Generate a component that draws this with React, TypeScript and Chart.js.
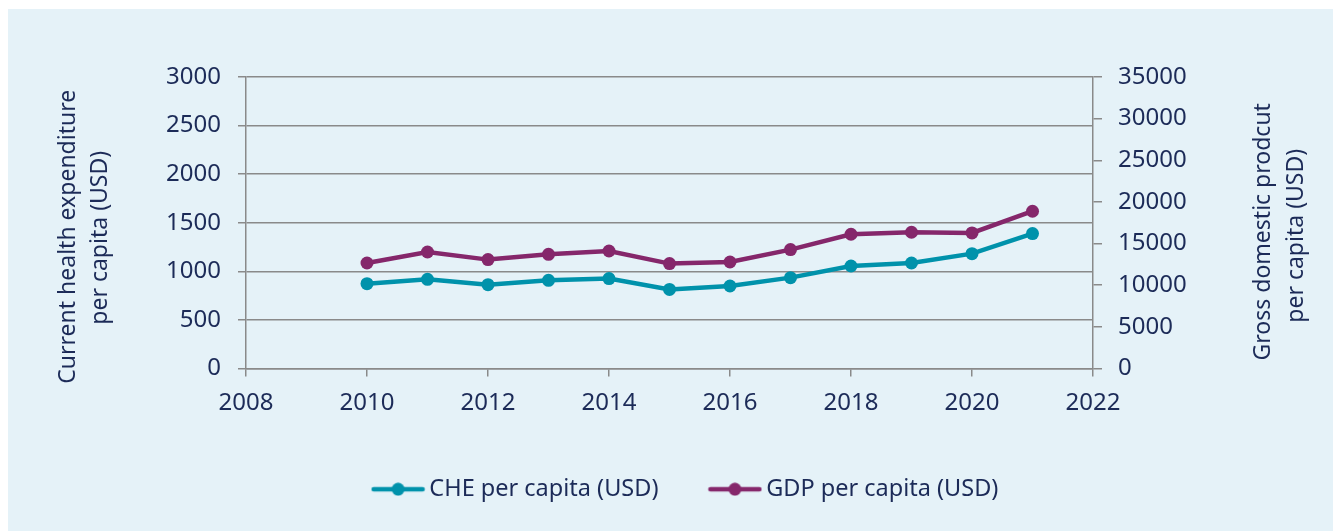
import React, { useEffect, useRef } from "react";
import { Chart, registerables } from "chart.js";

Chart.register(...registerables);

const years = [2010, 2011, 2012, 2013, 2014, 2015, 2016, 2017, 2018, 2019, 2020, 2021];
const cheValues = [873, 918, 863, 907, 925, 814, 849, 935, 1055, 1086, 1182, 1389];
const gdpValues = [12665, 13988, 13074, 13711, 14108, 12593, 12785, 14277, 16117, 16357, 16273, 18883];
const seriesLabels = ["CHE per capita (USD)", "GDP per capita (USD)"];
const leftTitle = ["Current health expenditure", "per capita (USD)"];
const rightTitle = ["Gross domestic prodcut", "per capita (USD)"];

const xMin = 2008;
const xMax = 2022;
const xStep = 2;
const leftMax = 3000;
const leftStep = 500;
const rightMax = 35000;
const rightStep = 5000;

const TEAL = "#0092ab";
const PURPLE = "#85276b";
const TEXT = "#1c2b58";
const GRID = "#8a8a8a";
const BG = "#e5f2f8";
const FONT = "'Noto Sans', sans-serif";

function makeMarker(color: string): HTMLCanvasElement {
  const c = document.createElement("canvas");
  c.width = 55;
  c.height = 14;
  const g = c.getContext("2d")!;
  g.strokeStyle = color;
  g.lineWidth = 4.5;
  g.lineCap = "round";
  g.beginPath();
  g.moveTo(3, 7);
  g.lineTo(52, 7);
  g.stroke();
  g.fillStyle = color;
  g.beginPath();
  g.arc(27.5, 7, 6.5, 0, Math.PI * 2);
  g.fill();
  return c;
}

const sideTitles = {
  id: "sideTitles",
  afterDraw(chart: any) {
    const { ctx, chartArea } = chart;
    const mid = (chartArea.top + chartArea.bottom) / 2;
    ctx.save();
    ctx.font = `23px ${FONT}`;
    ctx.fillStyle = TEXT;
    ctx.textAlign = "center";
    ctx.textBaseline = "middle";
    const draw = (lines: string[], xs: number[], cys: number[]) => {
      lines.forEach((t, i) => {
        ctx.save();
        ctx.translate(xs[i], cys[i]);
        ctx.rotate(-Math.PI / 2);
        ctx.fillText(t, 0, 0);
        ctx.restore();
      });
    };
    draw(leftTitle, [chartArea.left - 178, chartArea.left - 146], [mid + 14, mid + 15]);
    draw(rightTitle, [chartArea.right + 170, chartArea.right + 203], [mid + 9, mid + 13]);
    ctx.restore();
  },
};

export default function App() {
  const ref = useRef<HTMLCanvasElement | null>(null);

  useEffect(() => {
    if (!ref.current) return;
    const markers = [makeMarker(TEAL), makeMarker(PURPLE)];
    const chart = new Chart(ref.current, {
      type: "line",
      data: {
        datasets: [
          {
            label: seriesLabels[0],
            data: years.map((y, i) => ({ x: y, y: cheValues[i] })),
            borderColor: TEAL,
            backgroundColor: TEAL,
            pointBackgroundColor: TEAL,
            borderWidth: 4.5,
            pointRadius: 6.5,
            pointBorderWidth: 0,
            tension: 0,
            yAxisID: "y",
          },
          {
            label: seriesLabels[1],
            data: years.map((y, i) => ({ x: y, y: gdpValues[i] })),
            borderColor: PURPLE,
            backgroundColor: PURPLE,
            pointBackgroundColor: PURPLE,
            borderWidth: 4.5,
            pointRadius: 6.5,
            pointBorderWidth: 0,
            tension: 0,
            yAxisID: "y2",
          },
        ],
      },
      options: {
        responsive: false,
        animation: false,
        devicePixelRatio: 1,
        layout: { padding: { top: 68, left: 28, right: 0, bottom: 21 } },
        plugins: {
          tooltip: { enabled: false },
          legend: {
            position: "bottom",
            labels: {
              usePointStyle: true,
              pointStyleWidth: 39,
              padding: 57,
              color: TEXT,
              font: { family: FONT, size: 23.5 },
              generateLabels: (ch: any) =>
                ch.data.datasets.map((ds: any, i: number) => ({
                  text: ds.label,
                  fillStyle: ds.borderColor,
                  strokeStyle: ds.borderColor,
                  lineWidth: 0,
                  pointStyle: markers[i],
                  hidden: false,
                  datasetIndex: i,
                  fontColor: TEXT,
                })),
            },
          },
        },
        scales: {
          x: {
            type: "linear",
            min: xMin,
            max: xMax,
            afterBuildTicks: (s: any) => {
              const t = [];
              for (let v = xMin; v <= xMax; v += xStep) t.push({ value: v });
              s.ticks = t;
            },
            afterFit: (s: any) => {
              s.height = 52;
            },
            grid: { drawOnChartArea: false, drawTicks: true, tickLength: 8, color: GRID, lineWidth: 1.5 },
            border: { display: true, color: GRID, width: 1.5 },
            ticks: {
              padding: 12,
              color: TEXT,
              font: { family: FONT, size: 24 },
              maxRotation: 0,
              callback: (v: any) => String(v),
            },
          },
          y: {
            type: "linear",
            position: "left",
            min: 0,
            max: leftMax,
            afterFit: (s: any) => {
              s.width = 210;
            },
            grid: { drawTicks: true, tickLength: 8, color: GRID, lineWidth: 1.5 },
            border: { display: true, color: GRID, width: 1.5 },
            ticks: {
              stepSize: leftStep,
              padding: 17,
              color: TEXT,
              font: { family: FONT, size: 24 },
              callback: (v: any) => String(v),
            },
          },
          y2: {
            type: "linear",
            position: "right",
            min: 0,
            max: rightMax,
            afterFit: (s: any) => {
              s.width = 248;
            },
            grid: { drawOnChartArea: false, drawTicks: true, tickLength: 9, color: GRID, lineWidth: 1.5 },
            border: { display: true, color: GRID, width: 1.5 },
            ticks: {
              stepSize: rightStep,
              padding: 16,
              color: TEXT,
              font: { family: FONT, size: 24 },
              callback: (v: any) => String(v),
            },
          },
        },
      },
      plugins: [sideTitles],
    } as any);
    return () => chart.destroy();
  }, []);

  return (
    <div style={{ position: "relative", top: 1, width: 1333, height: 523, background: BG }}>
      <canvas ref={ref} width={1333} height={523} style={{ display: "block" }} />
    </div>
  );
}
